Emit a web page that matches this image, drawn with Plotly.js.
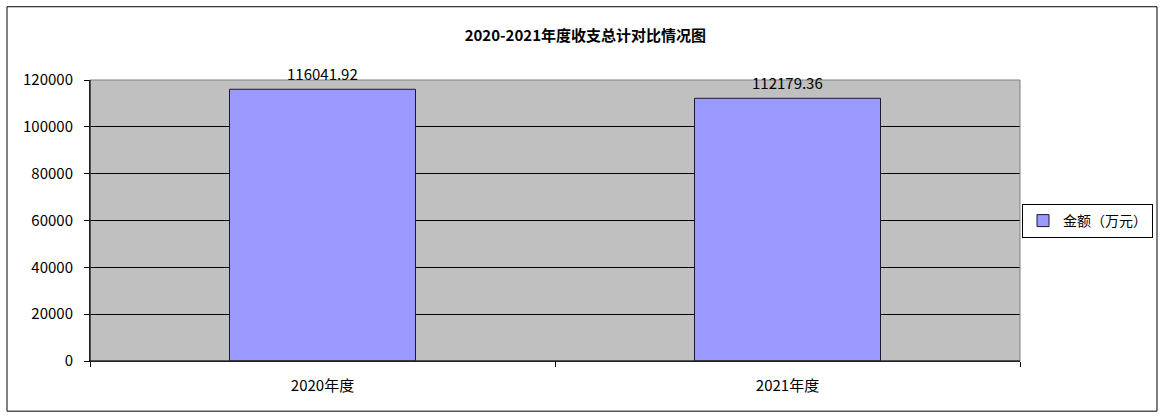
<!DOCTYPE html>
<html>
<head>
<meta charset="utf-8">
<script src="https://cdn.plot.ly/plotly-3.0.1.min.js"></script>
<style>html,body{margin:0;padding:0;background:#fff;}#chart{width:1166px;height:419px;}</style>
</head>
<body>
<div id="chart"></div>
<script>
const categories = ["2020年度", "2021年度"];
const amounts = [116041.92, 112179.36];
const seriesName = "金额（万元）";
const chartTitle = "2020-2021年度收支总计对比情况图";
const yTicks = [0, 20000, 40000, 60000, 80000, 100000, 120000];

const FONT = '"Noto Sans CJK SC", sans-serif';

const trace = {
  type: 'bar',
  x: categories,
  y: amounts,
  name: seriesName,
  marker: {color: '#9999FF', line: {color: '#1a1a33', width: 1}},
  showlegend: true
};

const valueLabels = categories.map((c, i) => ({
  x: c, y: amounts[i], xref: 'x', yref: 'y',
  text: amounts[i].toFixed(2),
  showarrow: false, xanchor: 'center', yanchor: 'middle', yshift: 16,
  font: {family: FONT, size: 15, color: '#000'}
}));

const layout = {
  width: 1166, height: 419,
  margin: {l: 90, r: 146, t: 80, b: 58},
  paper_bgcolor: '#ffffff',
  plot_bgcolor: '#C0C0C0',
  bargap: 0.6,
  title: {
    text: '<b>' + chartTitle + '</b>',
    font: {family: FONT, size: 15, color: '#000'},
    xref: 'container', x: 0.502, xanchor: 'center',
    yref: 'container', y: 1 - 36/419, yanchor: 'middle'
  },
  xaxis: {
    type: 'category',
    tickson: 'boundaries',
    ticks: 'outside', ticklen: 5, tickcolor: '#000',
    showline: true, linecolor: '#000', linewidth: 1,
    showgrid: false,
    tickfont: {family: FONT, size: 15, color: '#000'},
    ticklabelstandoff: 11
  },
  yaxis: {
    range: [0, 120000],
    tickvals: yTicks,
    ticktext: yTicks.map(String),
    ticks: 'outside', ticklen: 5, tickcolor: '#000',
    showline: true, linecolor: '#000', linewidth: 1,
    showgrid: true, gridcolor: '#000', gridwidth: 1,
    zeroline: false,
    tickfont: {family: FONT, size: 15, color: '#000'},
    ticklabelstandoff: 8
  },
  legend: {
    xref: 'container', x: 1153/1166, xanchor: 'right',
    yref: 'container', y: 1 - 221/419, yanchor: 'middle',
    bgcolor: '#ffffff', bordercolor: '#000', borderwidth: 1,
    font: {family: FONT, size: 14, color: '#000'},
    itemwidth: 30, tracegroupgap: 0
  },
  annotations: valueLabels,
  shapes: [
    {type: 'rect', xref: 'paper', yref: 'paper', x0: 0, x1: 1, y0: 0, y1: 1,
     line: {color: '#808080', width: 1}, fillcolor: 'rgba(0,0,0,0)', layer: 'above'},
    {type: 'line', xref: 'paper', yref: 'paper', x0: 0, x1: 0, y0: 0, y1: 1,
     line: {color: '#000', width: 1}, layer: 'above'},
    {type: 'line', xref: 'paper', yref: 'paper', x0: 0, x1: 1, y0: 0, y1: 0,
     line: {color: '#000', width: 1}, layer: 'above'},
    {type: 'rect', xref: 'paper', yref: 'paper',
     x0: (7-90)/930, x1: (1157-90)/930, y0: (361-411)/280, y1: (361-8)/280,
     line: {color: '#000', width: 1}, fillcolor: 'rgba(0,0,0,0)', layer: 'above'}
  ]
};

Plotly.newPlot('chart', [trace], layout, {staticPlot: true, displayModeBar: false});
</script>
</body>
</html>
